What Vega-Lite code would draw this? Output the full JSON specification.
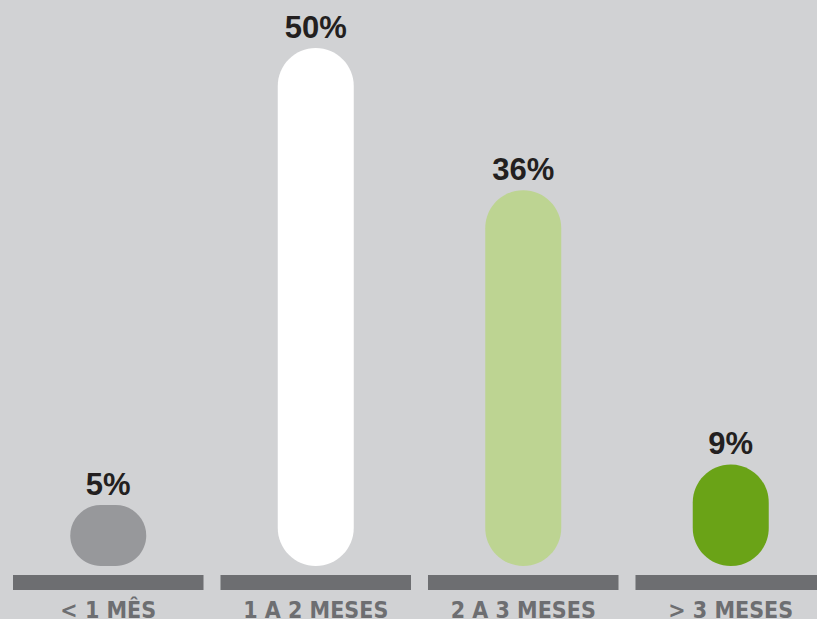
{
  "$schema": "https://vega.github.io/schema/vega-lite/v6.json",
  "width": 817,
  "height": 619,
  "autosize": "none",
  "padding": 0,
  "background": "#d1d2d4",
  "config": {"view": {"stroke": null}},
  "data": {
    "values": [
      {"cat": "< 1 MÊS", "pct": 5, "label": "5%", "color": "#97989b"},
      {"cat": "1 A 2 MESES", "pct": 50, "label": "50%", "color": "#ffffff"},
      {"cat": "2 A 3 MESES", "pct": 36, "label": "36%", "color": "#bdd492"},
      {"cat": "> 3 MESES", "pct": 9, "label": "9%", "color": "#6aa317"}
    ]
  },
  "encoding": {
    "x": {
      "field": "cat",
      "type": "nominal",
      "sort": null,
      "scale": {"range": [4.5, 834.5], "paddingInner": 0.0819, "paddingOuter": 0.041},
      "axis": {
        "title": null,
        "domain": false,
        "ticks": false,
        "labelAngle": 0,
        "labelPadding": -2,
        "labelBaseline": "alphabetic",
        "labelFont": "DejaVu Sans Condensed",
        "labelFontWeight": "bold",
        "labelFontSize": 23,
        "labelColor": "#6d6e71",
        "labelLimit": 0
      }
    }
  },
  "layer": [
    {
      "mark": {"type": "bar", "color": "#6d6e71"},
      "encoding": {
        "y": {"datum": -1.89, "scale": {"domain": [-1, 50], "range": [566, 48], "nice": false, "zero": false}, "axis": null},
        "y2": {"datum": -3.36}
      }
    },
    {
      "mark": {"type": "bar", "width": 76, "cornerRadius": 38},
      "encoding": {
        "y": {"field": "pct", "type": "quantitative"},
        "y2": {"datum": -1},
        "color": {"field": "color", "type": "nominal", "scale": null, "legend": null}
      }
    },
    {
      "mark": {"type": "text", "font": "Liberation Sans", "fontWeight": "bold", "fontSize": 31, "color": "#231f20", "baseline": "alphabetic", "dy": -10},
      "encoding": {
        "y": {"field": "pct", "type": "quantitative"},
        "text": {"field": "label"}
      }
    }
  ]
}
